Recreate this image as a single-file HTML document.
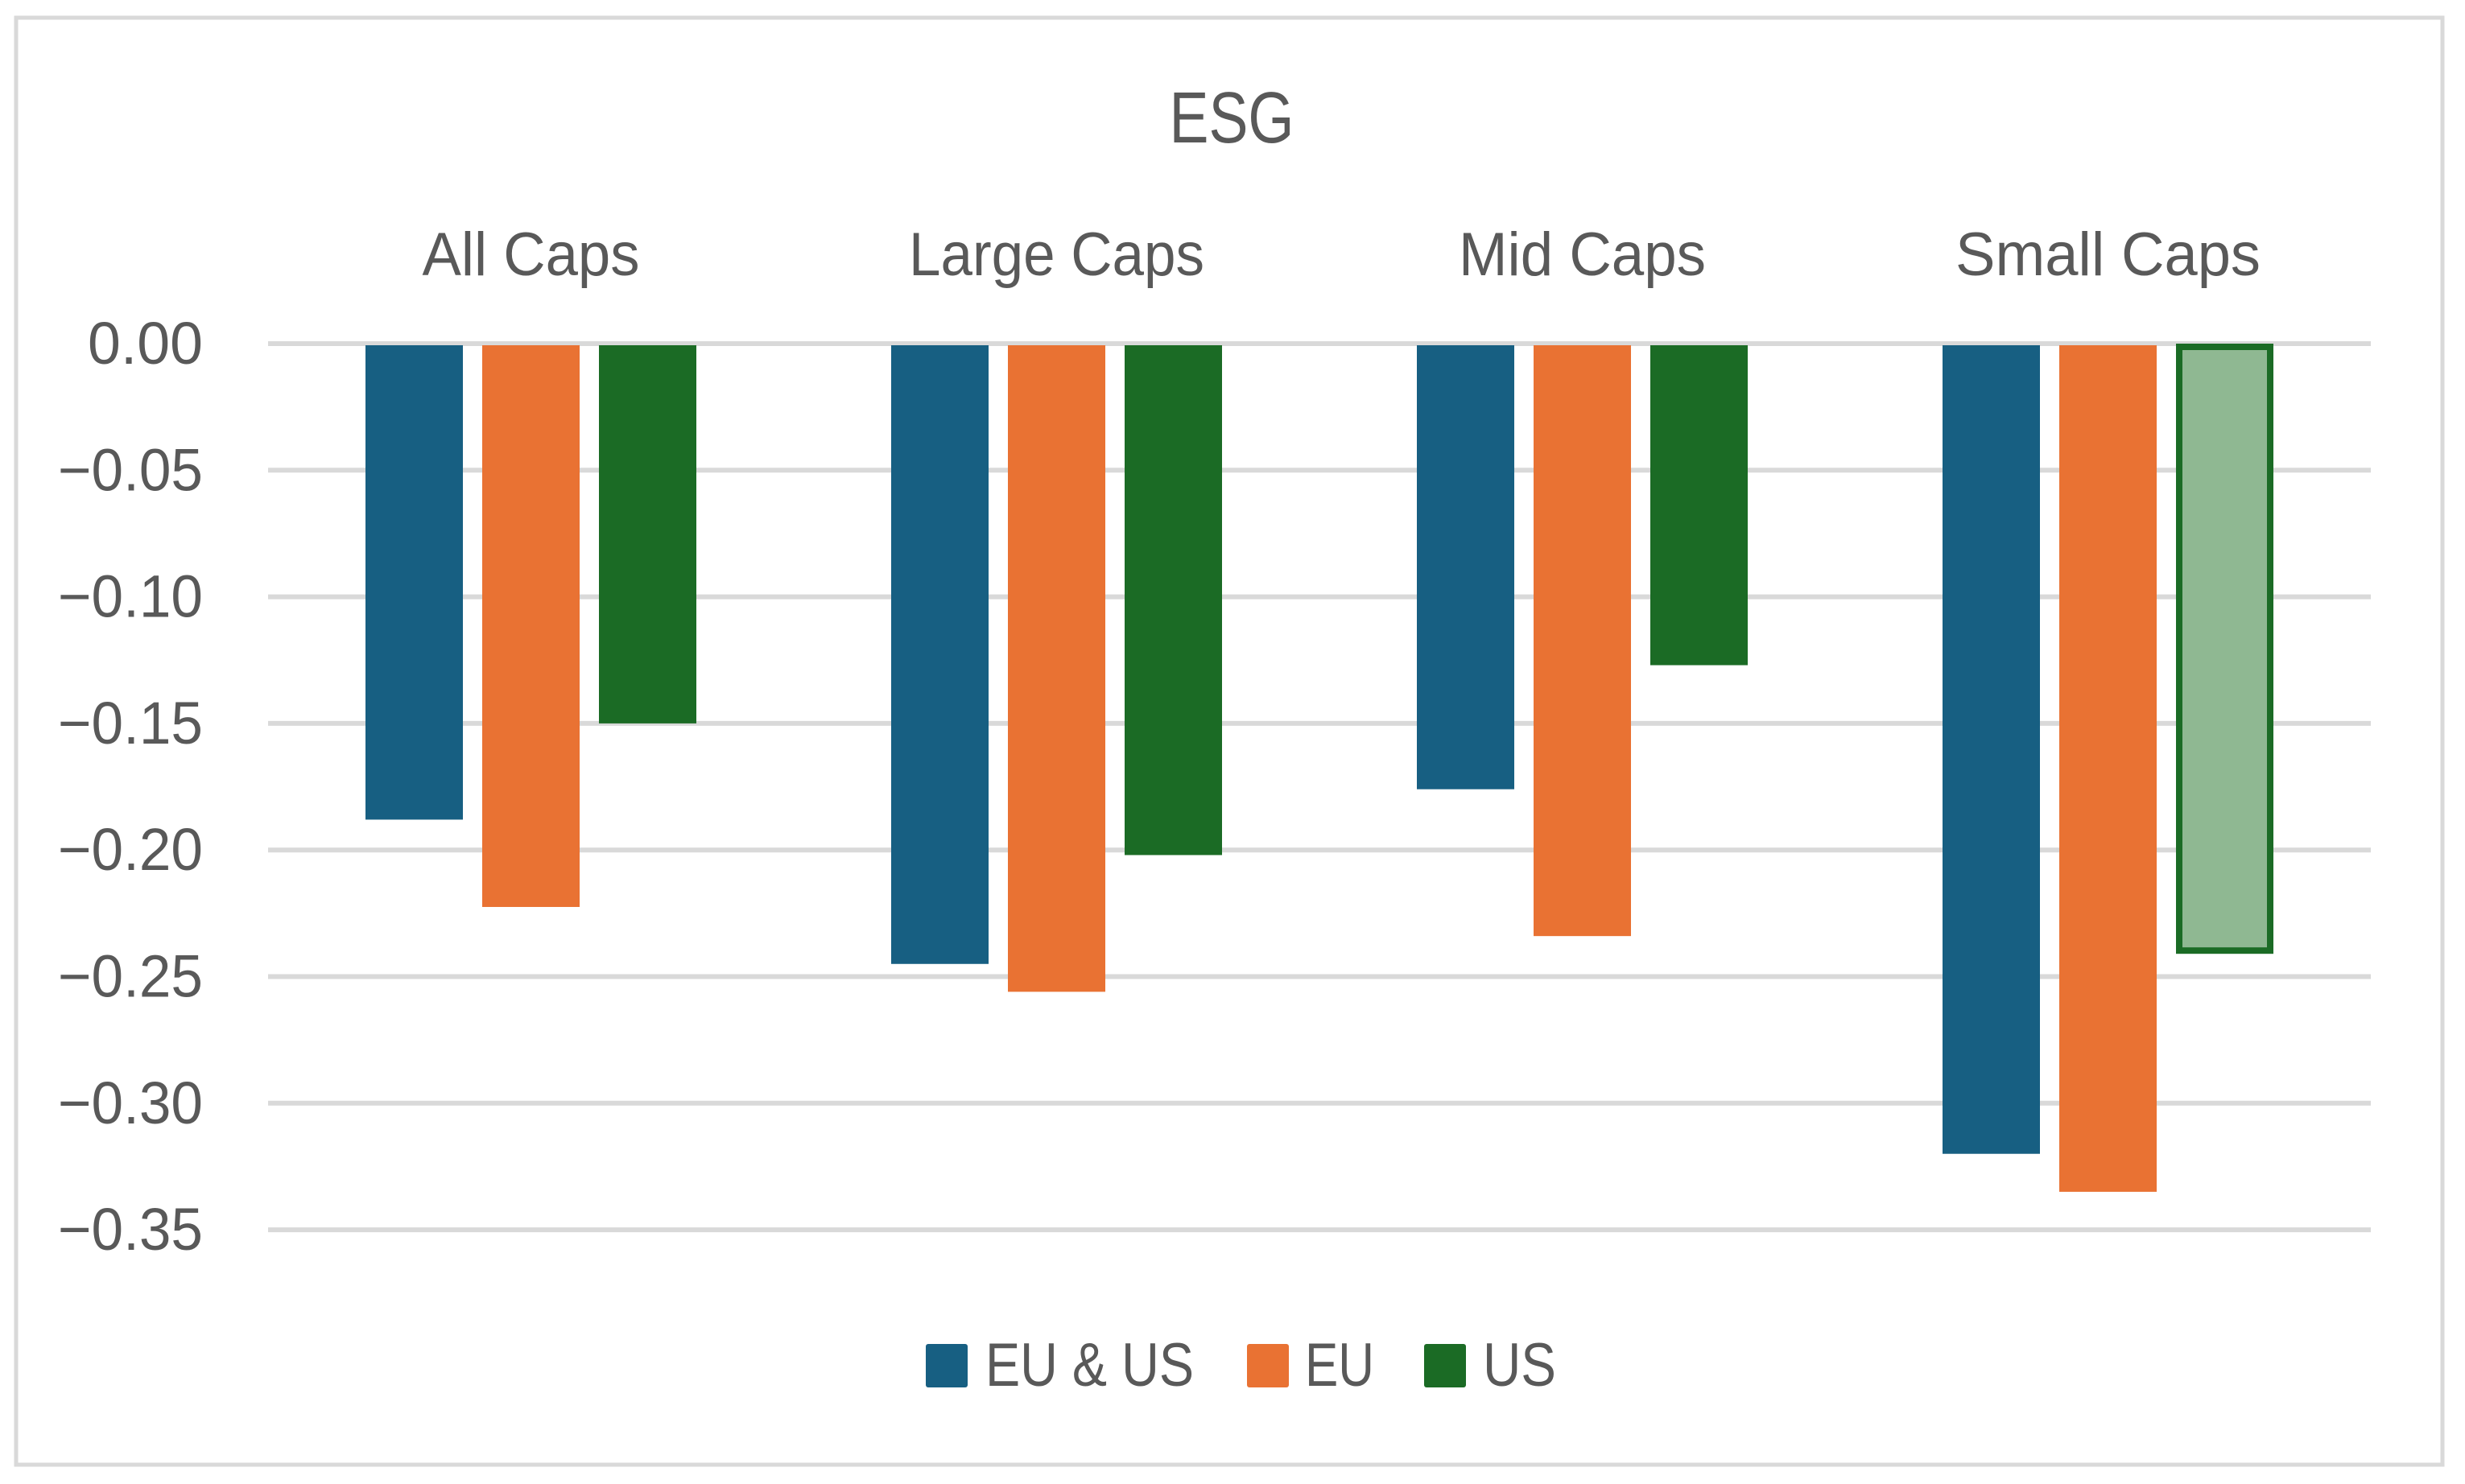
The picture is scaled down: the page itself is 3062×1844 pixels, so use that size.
<!DOCTYPE html>
<html><head><meta charset="utf-8"><style>
html,body{margin:0;padding:0;background:#fff;}
svg{display:block;font-family:"Liberation Sans",sans-serif;}
</style></head><body>
<svg id="chart" width="3062" height="1844" viewBox="0 0 3062 1844" xmlns="http://www.w3.org/2000/svg">
<rect x="0" y="0" width="3062" height="1844" fill="#fff"/>
<rect x="20" y="22" width="3014" height="1798" fill="none" stroke="#d9d9d9" stroke-width="5"/>
<text x="1530" y="177" text-anchor="middle" font-size="90" fill="#595959" textLength="155" lengthAdjust="spacingAndGlyphs">ESG</text>
<g id="grid"></g>
<g id="ylabels"></g>
<g id="bars"></g>
<g id="xlabels"></g>
<g id="legend"></g>
</svg>
<script>
const categories = ["All Caps", "Large Caps", "Mid Caps", "Small Caps"];
const seriesNames = ["EU & US", "EU", "US"];
const euUs = [-0.188, -0.245, -0.176, -0.320];
const eu = [-0.2225, -0.256, -0.234, -0.335];
const us = [-0.150, -0.202, -0.127, -0.241];
const ticks = [0, -0.05, -0.10, -0.15, -0.20, -0.25, -0.30, -0.35];
const tickLabels = ["0.00", "\u22120.05", "\u22120.10", "\u22120.15", "\u22120.20", "\u22120.25", "\u22120.30", "\u22120.35"];

const NS = "http://www.w3.org/2000/svg";
const plotL = 333, plotR = 2945, y0 = 427, pxPerUnit = 3146;
const yScale = v => y0 - v * pxPerUnit;
const groupW = (plotR - plotL) / categories.length;
const barW = 121, gap = 24;
const colors = ["#175f82", "#e97233", "#1b6b25"];
function mk(tag, attrs, parent){const e=document.createElementNS(NS,tag);for(const k in attrs)e.setAttribute(k,attrs[k]);parent.appendChild(e);return e;}

const grid = document.getElementById("grid");
const yl = document.getElementById("ylabels");
ticks.forEach((t,i)=>{
  const l = mk("line",{x1:plotL,x2:plotR,y1:yScale(t),y2:yScale(t),stroke:"#d9d9d9","stroke-width":6},grid);
  
  
  const tx = mk("text",{x:252,y:yScale(t)+25,"text-anchor":"end","font-size":74,fill:"#595959",textLength:i===0?143:180,lengthAdjust:"spacingAndGlyphs"},yl);
  tx.textContent = tickLabels[i];
  
  
});

const bars = document.getElementById("bars");
const series = [euUs, eu, us];
categories.forEach((c,ci)=>{
  const cx = plotL + groupW*(ci+0.5);
  series.forEach((s,si)=>{
    const x = cx + (si-1)*(barW+gap) - barW/2;
    const yb = yScale(s[ci]);
    const light = (ci===3 && si===2);
    const r = mk("rect",{x:light?x+4:x,y:light?y0+4:y0+2,width:light?barW-8:barW,height:light?yb-y0-8:yb-y0-2,fill:light?"#8fb892":colors[si]},bars);
    if(light){r.setAttribute("stroke",colors[2]);r.setAttribute("stroke-width",8);}
    
    
  });
});

const xl = document.getElementById("xlabels");
const xW = [270, 367, 307, 379];
categories.forEach((c,ci)=>{
  const t = mk("text",{x:plotL+groupW*(ci+0.5),y:342,"text-anchor":"middle","font-size":76,fill:"#595959",textLength:xW[ci],lengthAdjust:"spacingAndGlyphs"},xl);
  t.textContent = c;
  
  
});

const lg = document.getElementById("legend");
const swX = [1150, 1549, 1769], txX = [1224, 1621, 1842], txW = [259, 86, 91];
seriesNames.forEach((n,i)=>{
  const r = mk("rect",{x:swX[i],y:1670,width:52,height:54,rx:3,fill:colors[i]},lg);
  
  
  const t = mk("text",{x:txX[i],y:1722,"font-size":76,fill:"#595959",textLength:txW[i],lengthAdjust:"spacingAndGlyphs"},lg);
  t.textContent = n;
  
  
});
</script>
</body></html>
